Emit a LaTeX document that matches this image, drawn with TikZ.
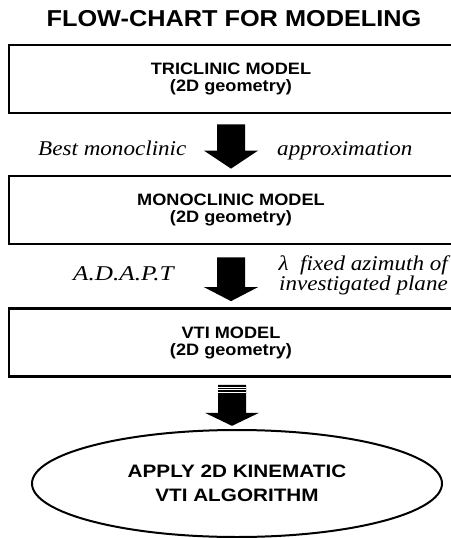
\documentclass[tikz,border=0pt]{standalone}
\usepackage{fontspec}
\setmainfont{Liberation Serif}
\newfontfamily\arialfont{Liberation Sans}
\usetikzlibrary{calc,shapes.geometric}
\newcommand\hs[1]{\scalebox{1.1}[1]{#1}}
\newcommand\blockarrow[3]{%
  \fill let \p1=(#1), \p2=(#2) in
    (\x1-14pt,\y1) -- (\x1+14pt,\y1) -- (\x1+14pt,\y2+#3) -- (\x1+27pt,\y2+#3)
    -- (\x1,\y2) -- (\x1-27pt,\y2+#3) -- (\x1-14pt,\y2+#3) -- cycle;}
\begin{document}
\begin{tikzpicture}[x=1pt,y=-1pt,
  modelbox/.style={draw=black, line width=2.7pt, minimum width=444pt,
    minimum height=68pt, inner sep=0pt, align=center,
    font=\arialfont\bfseries\fontsize{16.5}{17}\selectfont},
  label italic/.style={inner sep=0pt, font=\itshape\fontsize{21}{18}\selectfont},
  finalshape/.style={draw=black, line width=2pt, ellipse, minimum width=410pt,
    minimum height=107pt, inner sep=0pt, align=center,
    font=\arialfont\bfseries\fontsize{18}{24}\selectfont}]
\useasboundingbox (0,0) rectangle (450,538);
\fill[white] (0,0) rectangle (450,538);

\node[inner sep=0pt, anchor=base, font=\arialfont\bfseries\fontsize{23}{26}\selectfont]
  (title) at (234,27) {\hs{FLOW-CHART FOR MODELING}};

\node[modelbox] (b1) at (231,79) {\hs{TRICLINIC MODEL}\\\hs{(2D geometry)}};
\node[modelbox] (b2) at (231,210) {\hs{MONOCLINIC MODEL}\\\hs{(2D geometry)}};
\node[modelbox] (b3) at (231,342.5) {\hs{VTI MODEL}\\\hs{(2D geometry)}};
\node[finalshape] (e) at (237,483.5) {\scalebox{1.15}[1]{APPLY 2D KINEMATIC}\\\scalebox{1.15}[1]{VTI ALGORITHM}};

\coordinate (a1s) at ($(b1.south)+(0,10)$);
\coordinate (a1e) at ($(b2.north)+(0,-6)$);
\coordinate (a2s) at ($(b2.south)+(0,12)$);
\coordinate (a2e) at ($(b3.north)+(0,-6)$);
\coordinate (a3s) at ($(b3.south)+(1,7)$);
\coordinate (a3e) at ($(b3.south)+(1,48)$);

\blockarrow{a1s}{a1e}{18pt}
\blockarrow{a2s}{a2e}{14pt}
\blockarrow{a3s}{a3e}{13pt}
\foreach \d in {2,4.5,7}
  \draw[white, line width=0.6pt] ($(a3s)+(-14,\d)$) -- ($(a3s)+(14,\d)$);

\node[label italic, anchor=base west] (l1) at (38,155) {\hs{Best monoclinic}};
\node[label italic, anchor=base west] (l2) at (277,155) {\hs{approximation}};
\node[label italic, anchor=base west] (l3) at (73,280) {\scalebox{1.2}[1]{A.D.A.P.T}};
\node[label italic, anchor=base east] (l4) at (448,270) {\hs{λ\ \ fixed azimuth of}};
\node[label italic, anchor=base east] (l5) at (448,290) {\hs{investigated plane}};
\end{tikzpicture}
\end{document}
